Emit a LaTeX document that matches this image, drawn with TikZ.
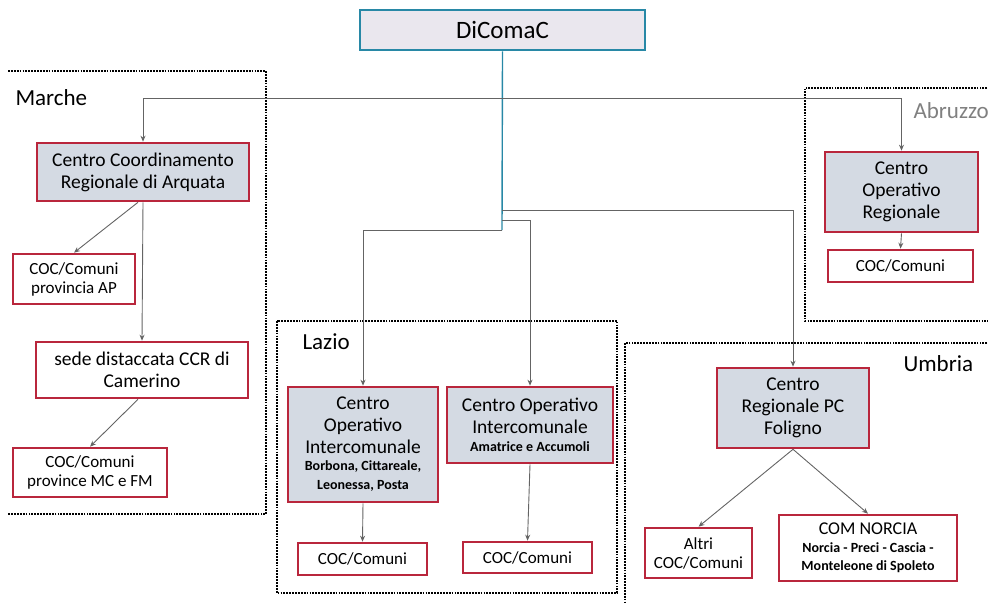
\documentclass[tikz,border=0pt]{standalone}
\usepackage{fontspec}
\setmainfont{Carlito}
\usetikzlibrary{arrows.meta}
\definecolor{bordorosso}{RGB}{185,38,60}
\definecolor{fondoente}{RGB}{212,218,227}
\definecolor{bordoblu}{RGB}{40,136,166}
\definecolor{fondotop}{RGB}{234,231,238}
\definecolor{grigiolinea}{RGB}{100,100,100}
\newcommand{\piccolo}{\bfseries\fontsize{14}{16}\selectfont}
\begin{document}
\begin{tikzpicture}[x=1pt,y=-1pt,
    ente/.style={draw=bordorosso, line width=2.6pt, fill=fondoente, align=center, inner sep=1pt, font=\fontsize{19.5}{22}\selectfont},
    coc/.style={ente, fill=white, font=\fontsize{17}{19}\selectfont},
    regione/.style={line width=2pt, dash pattern=on 1.8pt off 1.1pt},
    etichetta/.style={anchor=west, font=\fontsize{23}{26}\selectfont},
    ramo/.style={draw=grigiolinea, line width=0.9pt, -{Stealth[length=6pt,width=5pt]}}]
        \useasboundingbox (0,0) rectangle (988,604);
        % regioni
        \draw[regione] (8,71) -- (266,71) -- (266,514) -- (8,514);
        \draw[regione] (277,321) rectangle (617,593);
        \draw[regione] (990,88) -- (805,88) -- (805,321) -- (990,321);
        \draw[regione] (990,343) -- (625,343) -- (625,606);
        \node[etichetta] (marche) at (12,98) {Marche};
        \node[etichetta] (lazio) at (299,342) {Lazio};
        \node[etichetta, text=gray] (abruzzo) at (910,111) {Abruzzo};
        \node[etichetta] (umbria) at (900,364) {Umbria};
        % enti
        \node[ente, draw=bordoblu, fill=fondotop, minimum width=285pt, minimum height=40pt, font=\fontsize{25}{28}\selectfont] (dicomac) at (502.5,30) {DiComaC};
        \node[ente, minimum width=212pt, minimum height=58pt] (arquata) at (143,172) {Centro Coordinamento\\Regionale di Arquata};
        \node[coc, minimum width=122pt, minimum height=50pt] (cocAP) at (74,279) {COC/Comuni\\provincia AP};
        \node[ente, fill=white, minimum width=212pt, minimum height=56pt] (sede) at (142,370) {sede distaccata CCR di\\Camerino};
        \node[coc, minimum width=154pt, minimum height=49pt] (cocMC) at (90,472.5) {COC/Comuni\\province MC e FM};
        \node[ente, minimum width=150pt, minimum height=115pt] (coiA) at (363,444.5) {Centro\\Operativo\\Intercomunale\\[-5pt]{\piccolo Borbona, Cittareale,}\\[-3pt]{\piccolo Leonessa, Posta}};
        \node[ente, minimum width=166pt, minimum height=76pt] (coiB) at (530,425) {Centro Operativo\\Intercomunale\\[-4pt]{\piccolo Amatrice e Accumoli}};
        \node[coc, minimum width=129pt, minimum height=32pt] (cocA) at (362.5,559) {COC/Comuni};
        \node[coc, minimum width=129pt, minimum height=31pt] (cocB) at (527.5,557.5) {COC/Comuni};
        \node[ente, minimum width=153pt, minimum height=80pt] (cor) at (901.5,192) {Centro\\Operativo\\Regionale};
        \node[coc, minimum width=145pt, minimum height=32pt] (cocAbr) at (900.5,266) {COC/Comuni};
        \node[ente, minimum width=152pt, minimum height=80pt] (crpc) at (793,408) {Centro\\Regionale PC\\Foligno};
        \node[coc, minimum width=107pt, minimum height=50pt] (altri) at (698.5,553) {Altri\\COC/Comuni};
        \node[coc, minimum width=178pt, minimum height=66pt, font=\fontsize{18}{20}\selectfont] (norcia) at (868,548) {COM NORCIA\\[-2pt]{\piccolo Norcia - Preci - Cascia -}\\[-2pt]{\piccolo Monteleone di Spoleto}};
        % collegamenti
        \coordinate (j1) at (502,98);
        \coordinate (j2) at (502,210);
        \coordinate (j3) at (502,220);
        \coordinate (j4) at (502,230);
        \draw[bordoblu, line width=1.4pt] (dicomac.south) -- (j4);
        \draw[ramo] (j1) -| (arquata.north);
        \draw[ramo] (j1) -| (cor.north);
        \draw[ramo] (j2) -| (crpc.north);
        \draw[ramo] (j3) -| (coiB.north);
        \draw[ramo] (j4) -| (coiA.north);
        \draw[ramo] ([xshift=-5pt]arquata.south) -- (cocAP.north);
        \draw[ramo] (arquata.south) -- (sede.north);
        \draw[ramo] ([xshift=-4pt]sede.south) -- (cocMC.north);
        \draw[ramo] (coiA.south) -- (cocA.north);
        \draw[ramo] (coiB.south) -- (cocB.north);
        \draw[ramo] (cor.south) -- (cocAbr.north);
        \draw[ramo] (crpc.south) -- (altri.north);
        \draw[ramo] (crpc.south) -- (norcia.north);
    \end{tikzpicture}
\end{document}
